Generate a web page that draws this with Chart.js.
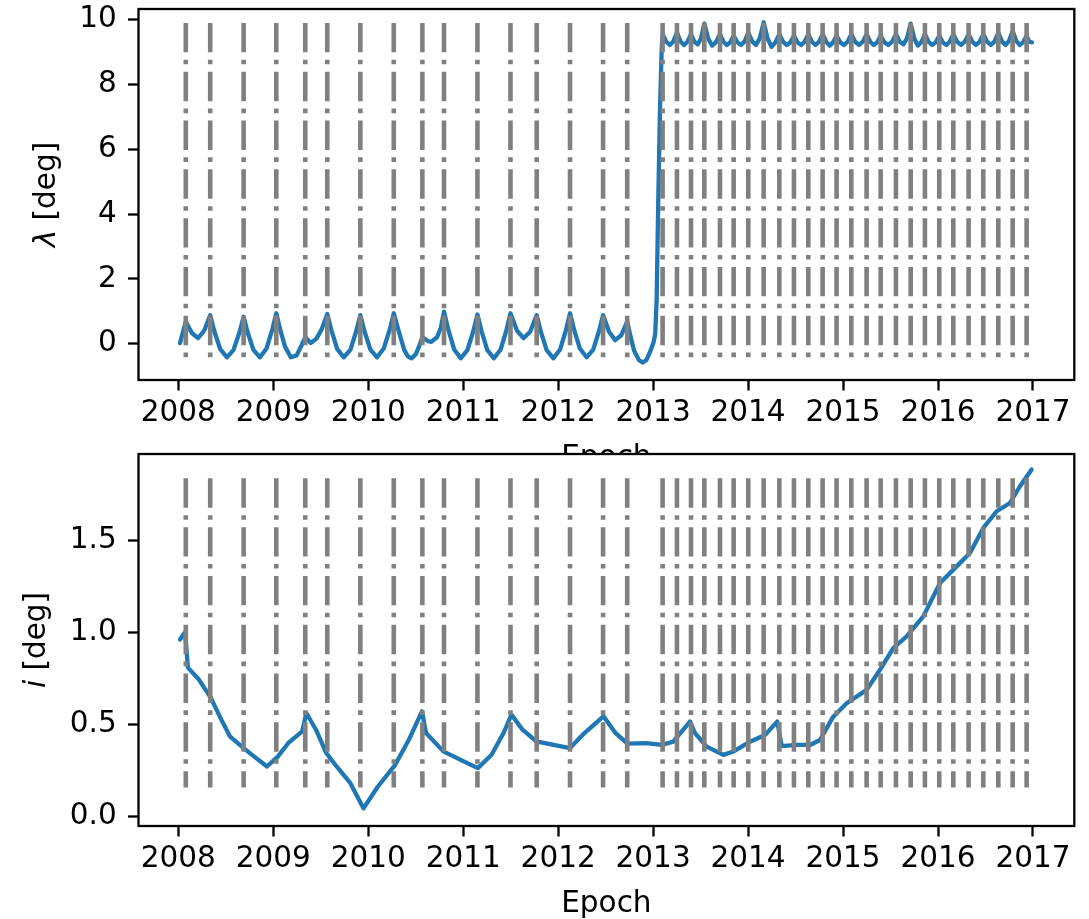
<!DOCTYPE html>
<html>
<head>
<meta charset="utf-8">
<script src="https://cdn.jsdelivr.net/npm/chart.js@4.4.1/dist/chart.umd.min.js"></script>
<style>
  html, body { margin: 0; padding: 0; background: #fff; overflow: hidden; }
  #wrap { position: relative; width: 1089px; height: 919px; }
  canvas { position: absolute; left: 0; }
  #lambdaChart { top: 0; z-index: 1; }
  #incChart { top: 440px; z-index: 2; }
</style>
</head>
<body>
<div id="wrap">
  <canvas id="lambdaChart" width="1089" height="480"></canvas>
  <canvas id="incChart" width="1089" height="479"></canvas>
</div>
<script>
// Manoeuvre epochs (decimal years) marked with vertical dash-dot lines
const EPOCHS = [
  2008.079, 2008.336, 2008.688, 2009.032, 2009.337, 2009.569, 2009.917, 2010.269,
  2010.570, 2010.798, 2011.150, 2011.498, 2011.774, 2012.125, 2012.473, 2012.727,
  2013.100, 2013.251, 2013.399, 2013.539, 2013.704, 2013.848, 2014.002, 2014.164,
  2014.329, 2014.483, 2014.634, 2014.785, 2014.932, 2015.087, 2015.248, 2015.396,
  2015.557, 2015.712, 2015.862, 2016.013, 2016.161, 2016.322, 2016.477, 2016.635,
  2016.786, 2016.933
];

// Longitude lambda [deg]
const LAMBDA_T = [
  2008.018, 2008.079, 2008.143, 2008.208, 2008.272, 2008.336, 2008.378, 2008.442, 2008.512, 2008.582,
  2008.646, 2008.688, 2008.729, 2008.791, 2008.860, 2008.929, 2008.991, 2009.032, 2009.069, 2009.124,
  2009.185, 2009.246, 2009.300, 2009.337, 2009.395, 2009.453, 2009.511, 2009.569, 2009.611, 2009.673,
  2009.743, 2009.813, 2009.875, 2009.917, 2009.959, 2010.023, 2010.093, 2010.163, 2010.227, 2010.269,
  2010.305, 2010.335, 2010.380, 2010.420, 2010.455, 2010.500, 2010.540, 2010.570, 2010.627, 2010.665,
  2010.725, 2010.765, 2010.798, 2010.840, 2010.904, 2010.974, 2011.044, 2011.108, 2011.150, 2011.192,
  2011.254, 2011.324, 2011.394, 2011.456, 2011.498, 2011.567, 2011.636, 2011.705, 2011.774, 2011.816,
  2011.879, 2011.950, 2012.020, 2012.083, 2012.125, 2012.167, 2012.229, 2012.299, 2012.369, 2012.431,
  2012.473, 2012.537, 2012.600, 2012.664, 2012.727, 2012.760, 2012.800, 2012.850, 2012.890, 2012.930,
  2012.975, 2013.005, 2013.022, 2013.037, 2013.054, 2013.072, 2013.090,
  2013.100, 2013.138, 2013.176, 2013.213, 2013.251, 2013.288, 2013.325, 2013.362,
  2013.399, 2013.434, 2013.469, 2013.504, 2013.539, 2013.580, 2013.622, 2013.663,
  2013.704, 2013.740, 2013.776, 2013.812, 2013.848, 2013.887, 2013.925, 2013.964,
  2014.002, 2014.043, 2014.083, 2014.124, 2014.164, 2014.205, 2014.247, 2014.288,
  2014.329, 2014.368, 2014.406, 2014.445, 2014.483, 2014.521, 2014.559, 2014.596,
  2014.634, 2014.672, 2014.710, 2014.747, 2014.785, 2014.822, 2014.859, 2014.895,
  2014.932, 2014.971, 2015.010, 2015.048, 2015.087, 2015.127, 2015.168, 2015.208,
  2015.248, 2015.285, 2015.322, 2015.359, 2015.396, 2015.436, 2015.477, 2015.517,
  2015.557, 2015.596, 2015.635, 2015.673, 2015.712, 2015.750, 2015.787, 2015.825,
  2015.862, 2015.900, 2015.938, 2015.975, 2016.013, 2016.050, 2016.087, 2016.124,
  2016.161, 2016.201, 2016.242, 2016.282, 2016.322, 2016.361, 2016.400, 2016.438,
  2016.477, 2016.517, 2016.556, 2016.596, 2016.635, 2016.673, 2016.711, 2016.748,
  2016.786, 2016.823, 2016.860, 2016.896, 2016.933, 2016.960, 2016.990
];
const LAMBDA_V = [
  0.02, 0.68, 0.33, 0.17, 0.40, 0.88, 0.40, -0.17, -0.42, -0.19,
  0.37, 0.83, 0.36, -0.19, -0.42, -0.15, 0.45, 0.94, 0.48, -0.09,
  -0.42, -0.36, -0.04, 0.20, 0.02, 0.15, 0.45, 0.92, 0.43, -0.16,
  -0.42, -0.18, 0.40, 0.88, 0.40, -0.18, -0.42, -0.15, 0.44, 0.94,
  0.55, 0.25, -0.20, -0.40, -0.45, -0.33, -0.05, 0.20, 0.08, 0.06,
  0.20, 0.50, 0.99, 0.47, -0.17, -0.45, -0.20, 0.40, 0.90, 0.40,
  -0.20, -0.45, -0.18, 0.43, 0.94, 0.40, 0.17, 0.37, 0.88, 0.39,
  -0.20, -0.45, -0.18, 0.43, 0.94, 0.44, -0.15, -0.42, -0.18, 0.40,
  0.88, 0.36, 0.11, 0.26, 0.68, 0.25, -0.22, -0.50, -0.58, -0.50,
  -0.20, 0.05, 0.30, 1.35, 4.40, 7.20, 9.06,
  9.55, 9.32, 9.22, 9.33, 9.60, 9.33, 9.22, 9.32,
  9.55, 9.32, 9.24, 9.42, 9.88, 9.42, 9.20, 9.31,
  9.55, 9.32, 9.22, 9.30, 9.50, 9.30, 9.22, 9.33,
  9.60, 9.33, 9.22, 9.43, 9.92, 9.42, 9.16, 9.30,
  9.55, 9.32, 9.22, 9.30, 9.50, 9.30, 9.22, 9.32,
  9.55, 9.32, 9.22, 9.32, 9.55, 9.32, 9.20, 9.30,
  9.50, 9.30, 9.22, 9.32, 9.55, 9.32, 9.22, 9.32,
  9.55, 9.32, 9.22, 9.30, 9.50, 9.30, 9.22, 9.32,
  9.55, 9.32, 9.24, 9.42, 9.88, 9.42, 9.20, 9.31,
  9.55, 9.32, 9.22, 9.30, 9.50, 9.30, 9.22, 9.32,
  9.55, 9.32, 9.22, 9.32, 9.55, 9.32, 9.22, 9.32,
  9.55, 9.32, 9.22, 9.33, 9.60, 9.33, 9.22, 9.35,
  9.65, 9.35, 9.22, 9.30, 9.50, 9.32, 9.30
];

// Inclination i [deg]
const INC_T = [
  2008.018, 2008.054, 2008.072, 2008.101, 2008.217, 2008.343, 2008.453, 2008.543, 2008.688, 2008.797,
  2008.934, 2009.050, 2009.159, 2009.305, 2009.348, 2009.450, 2009.558, 2009.667, 2009.812, 2009.950,
  2010.102, 2010.284, 2010.428, 2010.566, 2010.609, 2010.791, 2010.973, 2011.154, 2011.299, 2011.425,
  2011.508, 2011.625, 2011.770, 2011.952, 2012.125, 2012.277, 2012.477, 2012.604, 2012.731, 2012.930,
  2013.090, 2013.212, 2013.388, 2013.441, 2013.564, 2013.739, 2013.844, 2014.020, 2014.178, 2014.307,
  2014.354, 2014.512, 2014.652, 2014.757, 2014.897, 2015.038, 2015.249, 2015.389, 2015.529, 2015.670,
  2015.845, 2016.021, 2016.196, 2016.336, 2016.477, 2016.618, 2016.758, 2016.863, 2016.986
];
const INC_V = [
  0.963, 0.990, 1.003, 0.810, 0.745, 0.645, 0.527, 0.436, 0.372, 0.327,
  0.272, 0.327, 0.400, 0.463, 0.563, 0.472, 0.345, 0.272, 0.181, 0.044,
  0.163, 0.281, 0.417, 0.572, 0.454, 0.354, 0.308, 0.263, 0.336, 0.454,
  0.554, 0.472, 0.408, 0.390, 0.372, 0.454, 0.545, 0.454, 0.396, 0.399,
  0.389, 0.407, 0.516, 0.453, 0.380, 0.335, 0.353, 0.407, 0.443, 0.516,
  0.383, 0.389, 0.389, 0.416, 0.543, 0.616, 0.689, 0.798, 0.916, 0.980,
  1.089, 1.270, 1.361, 1.434, 1.570, 1.661, 1.706, 1.797, 1.888
];

const YEAR_TICKS = [2008, 2009, 2010, 2011, 2012, 2013, 2014, 2015, 2016, 2017];
const LAMBDA_TICKS = [0, 2, 4, 6, 8, 10];
const INC_TICKS = [0, 0.5, 1.0, 1.5];

// Vertical extent (top, bottom) of the epoch markers in each panel
const LAMBDA_MARK_SPAN = [9.9, -0.58];
const INC_MARK_SPAN = [1.84, 0.158];

const FAMILY = '"DejaVu Sans", sans-serif';
const FS = 29.5;
const LINE_BLUE = '#1f77b4';
const MARK_GREY = '#808080';

function toPoints(ts, vs) { return ts.map((t, k) => ({ x: t, y: vs[k] })); }

function markerDatasets(span) {
  return EPOCHS.map(t => ({
    data: [{ x: t, y: span[0] }, { x: t, y: span[1] }],
    borderColor: MARK_GREY,
    borderWidth: 4.6,
    borderDash: [29.4, 7.4, 4.6, 7.4],
    borderCapStyle: 'butt',
    pointRadius: 0,
    tension: 0,
    order: 0
  }));
}

// White plot face, black frame and axis titles
const framePlugin = {
  id: 'frame',
  beforeDraw(chart) {
    const { ctx, chartArea: a } = chart;
    ctx.save();
    ctx.fillStyle = '#fff';
    ctx.fillRect(a.left, a.top, a.right - a.left, a.bottom - a.top);
    ctx.restore();
  },
  afterDatasetsDraw(chart) {
    const { ctx, chartArea: a } = chart;
    ctx.save();
    ctx.strokeStyle = '#000';
    ctx.lineWidth = 2.3;
    ctx.strokeRect(a.left, a.top, a.right - a.left, a.bottom - a.top);
    ctx.restore();
  },
  afterDraw(chart, args, opts) {
    const { ctx, chartArea: a } = chart;
    ctx.save();
    ctx.fillStyle = '#000';
    ctx.textBaseline = 'alphabetic';
    // x title
    ctx.font = FS + 'px ' + FAMILY;
    ctx.textAlign = 'center';
    ctx.fillText(opts.xTitle, (a.left + a.right) / 2, opts.xBase);
    // y title, rotated, with an italic symbol part
    ctx.translate(opts.yBase, (a.top + a.bottom) / 2);
    ctx.rotate(-Math.PI / 2);
    ctx.textAlign = 'left';
    let total = 0;
    const widths = opts.yTitle.map(p => {
      ctx.font = (p.italic ? 'italic ' : '') + FS + 'px ' + FAMILY;
      const w = ctx.measureText(p.text).width;
      total += w;
      return w;
    });
    let x = -total / 2;
    opts.yTitle.forEach((p, k) => {
      ctx.font = (p.italic ? 'italic ' : '') + FS + 'px ' + FAMILY;
      ctx.fillText(p.text, x, 0);
      x += widths[k];
    });
    ctx.restore();
  }
};

function axisGrid() {
  return {
    display: true,
    drawOnChartArea: false,
    drawTicks: true,
    tickLength: 10.5,
    tickWidth: 2.3,
    tickColor: '#000',
    color: '#000'
  };
}

function makeChart(canvasId, cfg) {
  return new Chart(document.getElementById(canvasId), {
    type: 'line',
    data: {
      datasets: [
        {
          data: toPoints(cfg.t, cfg.v),
          borderColor: LINE_BLUE,
          borderWidth: 4.3,
          pointRadius: 0,
          tension: 0,
          borderJoinStyle: 'round',
          borderCapStyle: 'round',
          order: 1
        },
        ...markerDatasets(cfg.span)
      ]
    },
    options: {
      responsive: false,
      animation: false,
      devicePixelRatio: 1,
      events: [],
      layout: { autoPadding: false, padding: { left: 0, top: cfg.padTop, right: 14.7, bottom: 0 } },
      plugins: {
        legend: { display: false },
        tooltip: { enabled: false },
        frame: { xTitle: 'Epoch', xBase: cfg.xBase, yBase: cfg.yBase, yTitle: cfg.yTitle }
      },
      scales: {
        x: {
          type: 'linear',
          min: 2007.581,
          max: 2017.435,
          afterBuildTicks: s => { s.ticks = YEAR_TICKS.map(v => ({ value: v })); },
          afterFit: s => {
            s.height = cfg.xHeight;
            s.paddingLeft = 0; s.paddingRight = 0; s.paddingTop = 0; s.paddingBottom = 0;
          },
          ticks: {
            callback: v => String(v),
            font: { family: FAMILY, size: FS },
            color: '#000',
            padding: 5.6,
            maxRotation: 0,
            autoSkip: false
          },
          grid: axisGrid(),
          border: { display: false }
        },
        y: {
          type: 'linear',
          min: cfg.yMin,
          max: cfg.yMax,
          afterBuildTicks: s => { s.ticks = cfg.yTicks.map(v => ({ value: v })); },
          afterFit: s => {
            s.width = 138.5;
            s.paddingLeft = 0; s.paddingRight = 0; s.paddingTop = 0; s.paddingBottom = 0;
          },
          ticks: {
            callback: cfg.yFmt,
            font: { family: FAMILY, size: FS },
            color: '#000',
            padding: 11.3,
            autoSkip: false
          },
          grid: axisGrid(),
          border: { display: false }
        }
      }
    },
    plugins: [framePlugin]
  });
}

makeChart('lambdaChart', {
  t: LAMBDA_T, v: LAMBDA_V, span: LAMBDA_MARK_SPAN,
  yMin: -1.12, yMax: 10.33, yTicks: LAMBDA_TICKS, yFmt: v => String(v),
  padTop: 9, xHeight: 100, xBase: 466, yBase: 55,
  yTitle: [{ text: '\u03bb', italic: true }, { text: ' [deg]' }]
});

makeChart('incChart', {
  t: INC_T, v: INC_V, span: INC_MARK_SPAN,
  yMin: -0.052, yMax: 1.9725, yTicks: INC_TICKS, yFmt: v => v.toFixed(1),
  padTop: 14, xHeight: 93, xBase: 472, yBase: 45,
  yTitle: [{ text: 'i', italic: true }, { text: ' [deg]' }]
});
</script>
</body>
</html>
